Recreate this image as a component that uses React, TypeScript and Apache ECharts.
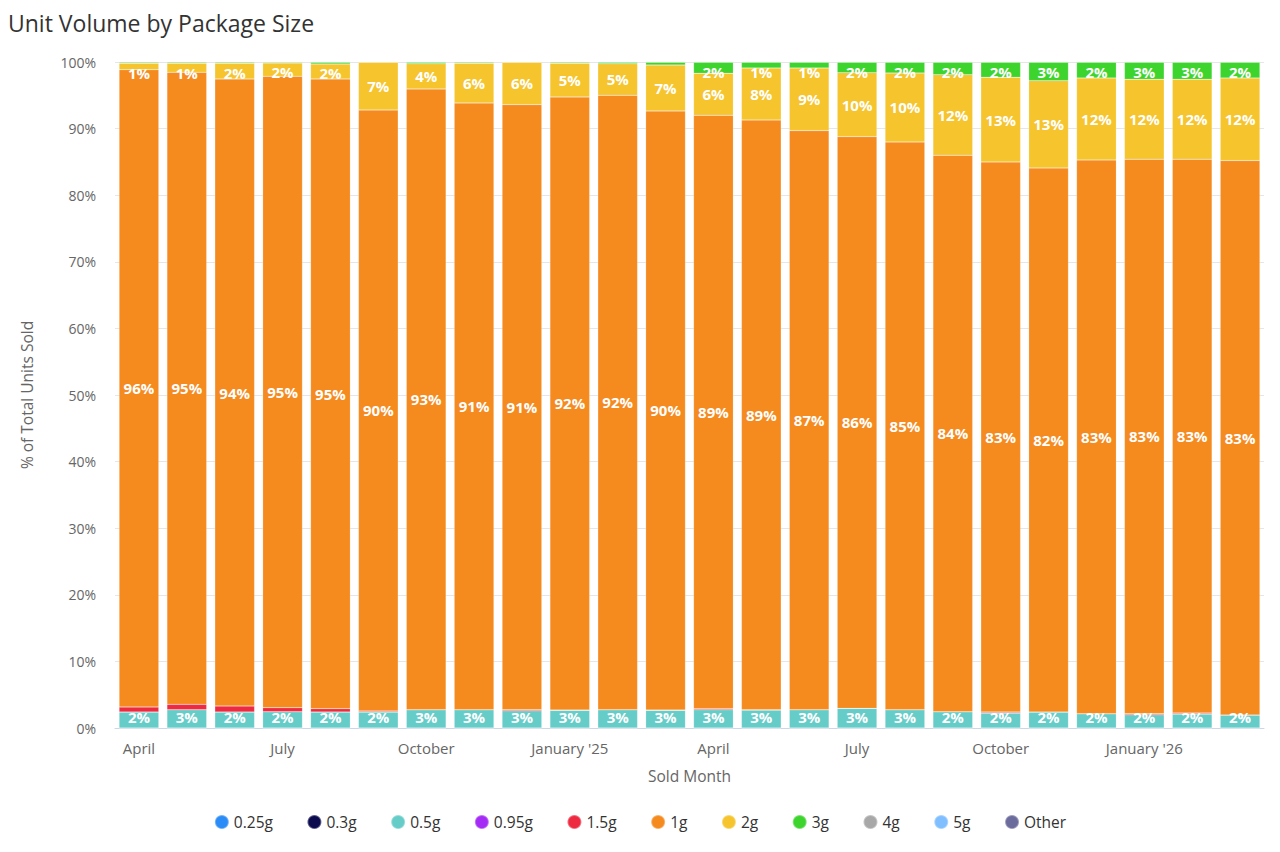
import { useEffect, useRef } from 'react'
import * as echarts from 'echarts'

const FONT = '"Open Sans", "Noto Sans", sans-serif'

// Apr 2024 .. Mar 2026
const months = [
  'Apr 2024', 'May 2024', 'Jun 2024', 'Jul 2024', 'Aug 2024', 'Sep 2024',
  'Oct 2024', 'Nov 2024', 'Dec 2024', 'Jan 2025', 'Feb 2025', 'Mar 2025',
  'Apr 2025', 'May 2025', 'Jun 2025', 'Jul 2025', 'Aug 2025', 'Sep 2025',
  'Oct 2025', 'Nov 2025', 'Dec 2025', 'Jan 2026', 'Feb 2026', 'Mar 2026',
]
const tickLabels = [
  'April', '', '', 'July', '', '', 'October', '', '', "January '25", '', '',
  'April', '', '', 'July', '', '', 'October', '', '', "January '26", '', '',
]

const g025 = [0, 0, 0, 0, 0, 0, 0, 0, 0, 0, 0, 0, 0, 0, 0, 0, 0, 0, 0, 0, 0, 0, 0, 0]
const g03 = [0, 0, 0, 0, 0, 0, 0, 0, 0, 0, 0, 0, 0, 0, 0, 0, 0, 0, 0, 0, 0, 0, 0, 0]
const g05 = [2.4, 2.75, 2.4, 2.45, 2.4, 2.4, 2.75, 2.75, 2.6, 2.65, 2.75, 2.65, 2.75, 2.7, 2.75, 2.95, 2.75, 2.45, 2.25, 2.4, 2.15, 2.0, 2.1, 1.95]
const g095 = [0, 0, 0, 0, 0, 0, 0, 0, 0, 0, 0, 0, 0, 0, 0, 0, 0, 0, 0, 0, 0, 0, 0, 0]
const g15 = [0.75, 0.8, 0.9, 0.6, 0.5, 0.15, 0, 0, 0.15, 0.05, 0, 0.05, 0.15, 0.05, 0, 0, 0, 0, 0.15, 0, 0, 0.15, 0.15, 0]
const g1 = [95.7, 94.9, 94.15, 94.8, 94.55, 90.25, 93.2, 91.1, 90.85, 92.05, 92.25, 89.95, 89.1, 88.55, 86.95, 85.85, 85.25, 83.55, 82.6, 81.7, 83.15, 83.25, 83.15, 83.25]
const g2 = [0.95, 1.35, 2.35, 2.0, 2.25, 7.2, 3.8, 5.95, 6.4, 5.05, 4.75, 6.9, 6.3, 7.8, 9.4, 9.6, 10.35, 12.1, 12.7, 13.1, 12.3, 12.0, 12.0, 12.4]
const g3 = [0.2, 0.2, 0.2, 0.15, 0.3, 0, 0.25, 0.2, 0, 0.2, 0.25, 0.45, 1.7, 0.9, 0.9, 1.6, 1.65, 1.9, 2.3, 2.8, 2.4, 2.6, 2.6, 2.4]
const g4 = [0, 0, 0, 0, 0, 0, 0, 0, 0, 0, 0, 0, 0, 0, 0, 0, 0, 0, 0, 0, 0, 0, 0, 0]
const g5 = [0, 0, 0, 0, 0, 0, 0, 0, 0, 0, 0, 0, 0, 0, 0, 0, 0, 0, 0, 0, 0, 0, 0, 0]
const other = [0, 0, 0, 0, 0, 0, 0, 0, 0, 0, 0, 0, 0, 0, 0, 0, 0, 0, 0, 0, 0, 0, 0, 0]

const sizes = [
  { name: '0.25g', color: '#2b8cf7', data: g025, label: false },
  { name: '0.3g', color: '#0b0b4d', data: g03, label: false },
  { name: '0.5g', color: '#66ccc8', data: g05, label: true },
  { name: '0.95g', color: '#a42cf5', data: g095, label: false },
  { name: '1.5g', color: '#ee2a40', data: g15, label: false },
  { name: '1g', color: '#f58a1f', data: g1, label: true },
  { name: '2g', color: '#f6c42d', data: g2, label: true },
  { name: '3g', color: '#3ed42e', data: g3, label: true },
  { name: '4g', color: '#a8a8a8', data: g4, label: false },
  { name: '5g', color: '#80bfff', data: g5, label: false },
  { name: 'Other', color: '#6b6b9c', data: other, label: false },
]

const labelBase = {
  show: true,
  color: '#fff',
  fontFamily: FONT,
  fontWeight: 'bold' as const,
  fontSize: 15,
  formatter: (p: any) => (p.value >= 0.8 ? `${Math.round(p.value)}%` : ''),
}

function labelFor(name: string, v: number) {
  if (name === '3g') return { ...labelBase, position: 'insideTop', distance: 2 }
  if (name === '2g' && v < 3) return { ...labelBase, position: 'insideTop', distance: 2 }
  if (name === '0.5g') return { ...labelBase, position: 'insideBottom', distance: 4 }
  return { ...labelBase, position: 'inside' }
}

export default function App() {
  const elRef = useRef<HTMLDivElement>(null)

  useEffect(() => {
    if (!elRef.current) return
    document.body.style.margin = '0'
    const chart = echarts.init(elRef.current, undefined, { renderer: 'svg' })
    chart.setOption({
      animation: false,
      backgroundColor: '#fff',
      textStyle: { fontFamily: FONT },
      title: {
        text: 'Unit Volume by Package Size',
        left: 8,
        top: 11,
        padding: 0,
        textStyle: { fontFamily: FONT, fontSize: 23, fontWeight: 'normal', color: '#333' },
      },
      legend: {
        bottom: 17,
        left: 'center',
        icon: 'circle',
        itemWidth: 14,
        itemHeight: 14,
        itemGap: 33.5,
        textStyle: { fontFamily: FONT, fontSize: 15.5, color: '#333' },
        data: sizes.map((s) => s.name),
      },
      grid: { left: 115, right: 16, top: 62, bottom: 124 },
      xAxis: {
        type: 'category',
        data: months,
        name: 'Sold Month',
        nameLocation: 'middle',
        nameGap: 40,
        nameTextStyle: { fontFamily: FONT, fontSize: 15.5, color: '#666' },
        axisLine: { lineStyle: { color: '#ccd6eb' } },
        axisTick: { show: false },
        axisLabel: {
          interval: 0,
          formatter: (_v: string, i: number) => tickLabels[i],
          color: '#666',
          fontSize: 15,
          fontFamily: FONT,
          margin: 12,
        },
      },
      yAxis: {
        type: 'value',
        min: 0,
        max: 100,
        interval: 10,
        name: '% of Total Units Sold',
        nameLocation: 'middle',
        nameGap: 80,
        nameTextStyle: { fontFamily: FONT, fontSize: 15.5, color: '#666' },
        axisLabel: { formatter: '{value}%', color: '#666', fontSize: 14, fontFamily: FONT, margin: 19 },
        splitLine: { lineStyle: { color: '#e6e6e6' } },
      },
      series: sizes.map((s) => ({
        name: s.name,
        type: 'bar',
        stack: 'total',
        barCategoryGap: '17%',
        itemStyle: { color: s.color, borderColor: 'rgba(255,255,255,0.35)', borderWidth: 0.5 },
        data: s.data.map((v) => ({
          value: v,
          label: s.label ? labelFor(s.name, v) : { show: false },
        })),
      })),
    })
    return () => chart.dispose()
  }, [])

  return <div ref={elRef} style={{ width: 1280, height: 852 }} />
}
